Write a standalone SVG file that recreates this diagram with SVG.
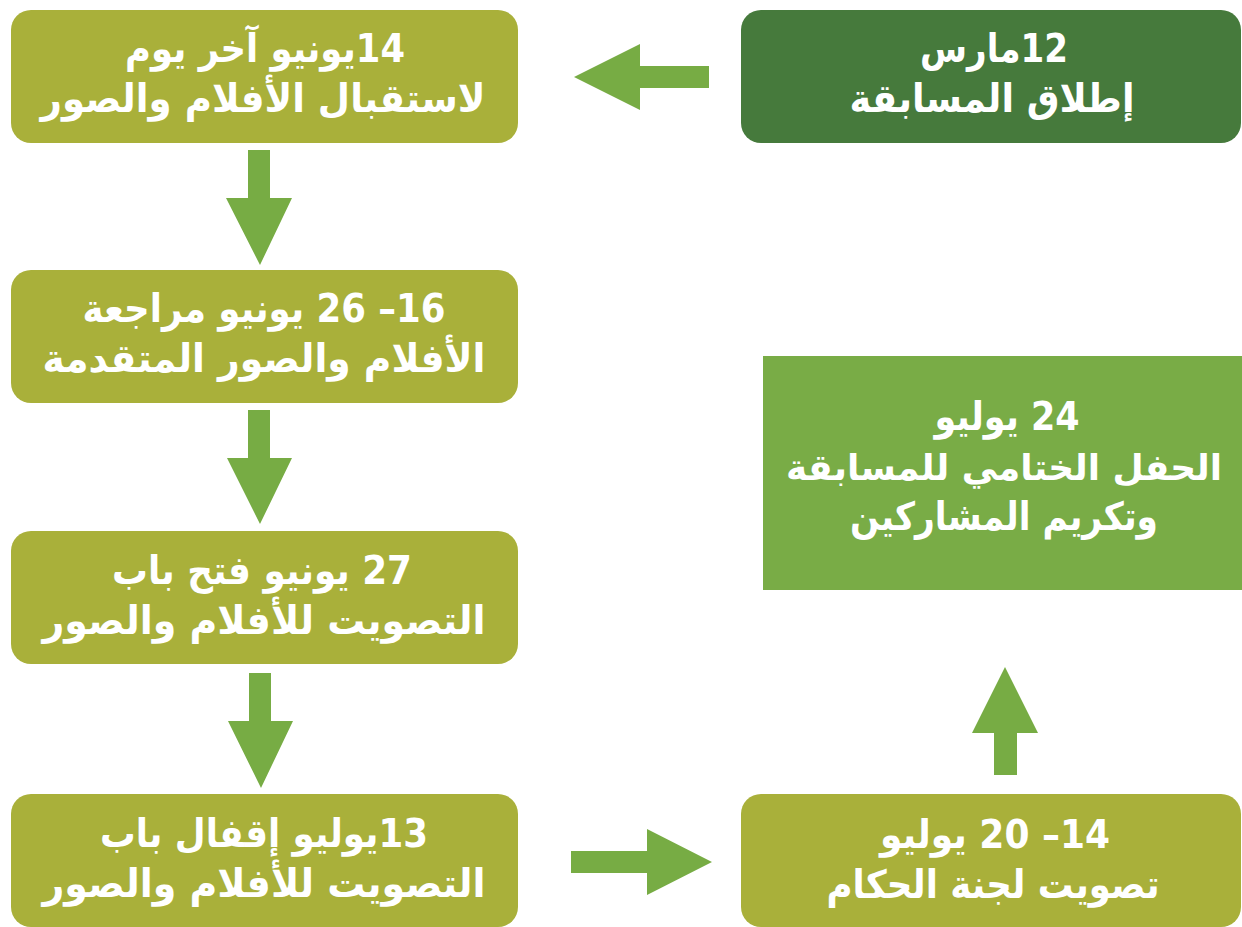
<svg xmlns="http://www.w3.org/2000/svg" width="1242" height="927" viewBox="0 0 1242 927">
<style>
.olive{fill:#a9b03a}
.dark{fill:#467a3c}
.mid{fill:#79ac46}
.arrow{fill:#77ac44}
text{font-family:"DejaVu Sans",sans-serif;font-weight:bold;font-size:39px;fill:#ffffff;text-anchor:middle;direction:rtl}
.tight{font-size:36px}
</style>
<rect x="0" y="0" width="1242" height="927" fill="#ffffff"/>
<g id="connectors">
<polygon class="arrow" points="709,66 640,66 640,44 574,77 640,110 640,88 709,88"/>
<polygon class="arrow" points="248,150 270,150 270,198 292,198 260,265 226,198 248,198"/>
<polygon class="arrow" points="248,410 270,410 270,458 292,458 260,524 227,458 248,458"/>
<polygon class="arrow" points="249,673 271,673 271,721 293,721 261,788 228,721 249,721"/>
<polygon class="arrow" points="571,851 647,851 647,829 712,862 647,895 647,873 571,873"/>
<polygon class="arrow" points="994,775 1017,775 1017,733 1038,733 1005,667 972,733 994,733"/>
</g>
<g id="node-launch">
<rect class="dark" x="741" y="10" width="500" height="133" rx="20"/>
<text x="994" y="62" textLength="148" lengthAdjust="spacingAndGlyphs">12مارس</text>
<text x="992" y="112" textLength="285" lengthAdjust="spacingAndGlyphs">إطلاق المسابقة</text>
</g>
<g id="node-jun14">
<rect class="olive" x="11" y="10" width="507" height="133" rx="20"/>
<text x="265" y="62" textLength="280" lengthAdjust="spacingAndGlyphs">14يونيو آخر يوم</text>
<text x="263" y="112" textLength="445" lengthAdjust="spacingAndGlyphs">لاستقبال الأفلام والصور</text>
</g>
<g id="node-jun16">
<rect class="olive" x="11" y="270" width="507" height="133" rx="20"/>
<text x="264" y="322" textLength="363" lengthAdjust="spacingAndGlyphs">16– 26 يونيو مراجعة</text>
<text x="264" y="372" textLength="443" lengthAdjust="spacingAndGlyphs">الأفلام والصور المتقدمة</text>
</g>
<g id="node-jun27">
<rect class="olive" x="11" y="531" width="507" height="133" rx="20"/>
<text x="262" y="584" textLength="300" lengthAdjust="spacingAndGlyphs">27 يونيو فتح باب</text>
<text x="264" y="634" textLength="443" lengthAdjust="spacingAndGlyphs">التصويت للأفلام والصور</text>
</g>
<g id="node-jul13">
<rect class="olive" x="11" y="794" width="507" height="133" rx="20"/>
<text x="264" y="847" textLength="328" lengthAdjust="spacingAndGlyphs">13يوليو إقفال باب</text>
<text x="264" y="897" textLength="443" lengthAdjust="spacingAndGlyphs">التصويت للأفلام والصور</text>
</g>
<g id="node-jul14">
<rect class="olive" x="741" y="794" width="500" height="133" rx="20"/>
<text x="995" y="848" textLength="230" lengthAdjust="spacingAndGlyphs">14– 20 يوليو</text>
<text x="993" y="898" textLength="333" lengthAdjust="spacingAndGlyphs">تصويت لجنة الحكام</text>
</g>
<g id="node-jul24">
<rect class="mid" x="763" y="356" width="479" height="234"/>
<text x="1007" y="430" textLength="145" lengthAdjust="spacingAndGlyphs">24 يوليو</text>
<text class="tight" x="1004" y="480" textLength="436" lengthAdjust="spacingAndGlyphs">الحفل الختامي للمسابقة</text>
<text x="1004" y="530" textLength="308" lengthAdjust="spacingAndGlyphs">وتكريم المشاركين</text>
</g>
</svg>
